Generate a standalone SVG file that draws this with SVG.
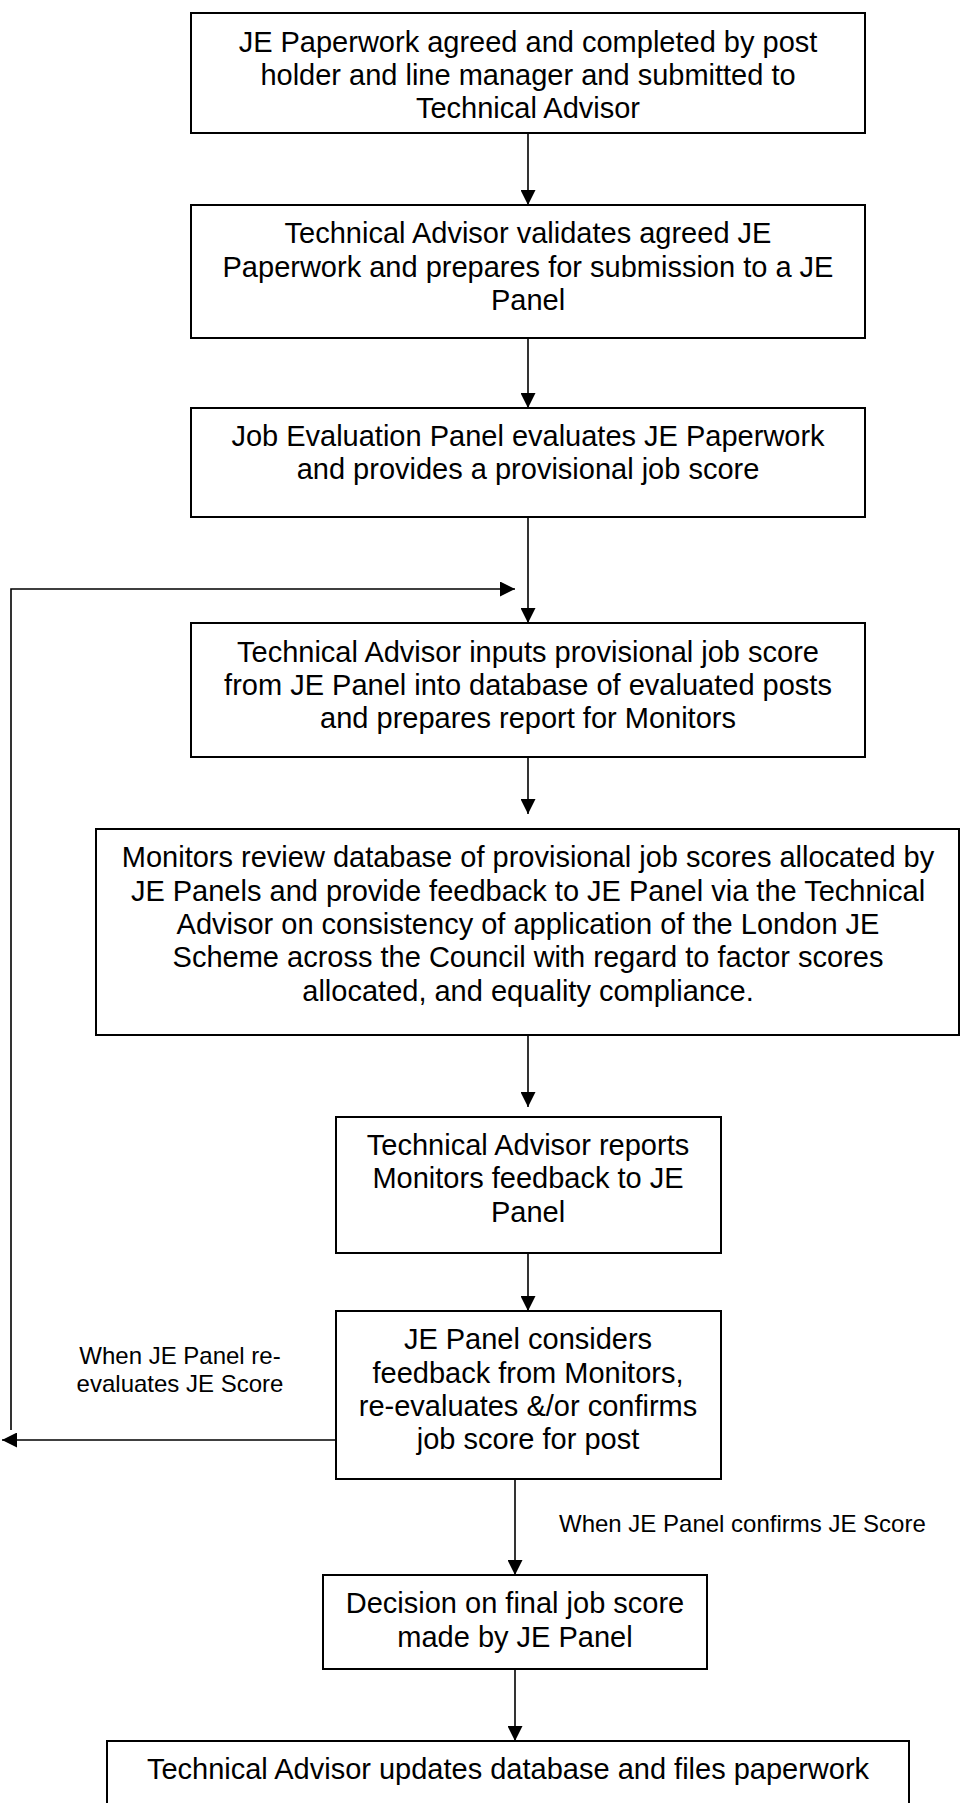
<svg xmlns="http://www.w3.org/2000/svg" width="961" height="1803" viewBox="0 0 961 1803">
  <style>
    .box { fill: #ffffff; stroke: #000000; stroke-width: 2; }
    .t { font-family: "Liberation Sans", Arial, Helvetica, sans-serif; font-size: 29px; fill: #000000; text-anchor: middle; }
    .lbl { font-family: "Liberation Sans", Arial, Helvetica, sans-serif; font-size: 24px; fill: #000000; }
    .conn { fill: none; stroke: #000000; stroke-width: 1.6; }
  </style>
  <defs>
    <marker id="arr" markerUnits="userSpaceOnUse" markerWidth="15" markerHeight="15" refX="15" refY="7.5" orient="auto">
      <path d="M0,0 L15,7.5 L0,15 z" fill="#000000"/>
    </marker>
  </defs>
  <rect width="961" height="1803" fill="#ffffff"/>

  <g id="connectors">
    <line class="conn" x1="528" y1="133" x2="528" y2="205" marker-end="url(#arr)"/>
    <line class="conn" x1="528" y1="338" x2="528" y2="408" marker-end="url(#arr)"/>
    <line class="conn" x1="528" y1="517" x2="528" y2="623" marker-end="url(#arr)"/>
    <line class="conn" x1="528" y1="757" x2="528" y2="814" marker-end="url(#arr)"/>
    <line class="conn" x1="528" y1="1035" x2="528" y2="1107" marker-end="url(#arr)"/>
    <line class="conn" x1="528" y1="1253" x2="528" y2="1311" marker-end="url(#arr)"/>
    <line class="conn" x1="515" y1="1479" x2="515" y2="1575" marker-end="url(#arr)"/>
    <line class="conn" x1="515" y1="1669" x2="515" y2="1741" marker-end="url(#arr)"/>
    <path class="conn" d="M11,1430 V589 H515" marker-end="url(#arr)"/>
    <line class="conn" x1="336" y1="1440" x2="2" y2="1440" stroke-width="2" marker-end="url(#arr)"/>
    <text class="lbl" text-anchor="middle" x="180" y="1364">When JE Panel re-</text>
    <text class="lbl" text-anchor="middle" x="180" y="1392">evaluates JE Score</text>
    <text class="lbl" x="559" y="1532">When JE Panel confirms JE Score</text>
  </g>

  <g id="node1">
    <rect class="box" x="191" y="13" width="674" height="120"/>
    <text class="t" x="528" y="51.5">JE Paperwork agreed and completed by post</text>
    <text class="t" x="528" y="84.8">holder and line manager and submitted to</text>
    <text class="t" x="528" y="118.1">Technical Advisor</text>
  </g>

  <g id="node2">
    <rect class="box" x="191" y="205" width="674" height="133"/>
    <text class="t" x="528" y="243.4">Technical Advisor validates agreed JE</text>
    <text class="t" x="528" y="276.7">Paperwork and prepares for submission to a JE</text>
    <text class="t" x="528" y="310">Panel</text>
  </g>

  <g id="node3">
    <rect class="box" x="191" y="408" width="674" height="109"/>
    <text class="t" x="528" y="446">Job Evaluation Panel evaluates JE Paperwork</text>
    <text class="t" x="528" y="479.3">and provides a provisional job score</text>
  </g>

  <g id="node4">
    <rect class="box" x="191" y="623" width="674" height="134"/>
    <text class="t" x="528" y="661.7">Technical Advisor inputs provisional job score</text>
    <text class="t" x="528" y="695">from JE Panel into database of evaluated posts</text>
    <text class="t" x="528" y="728.3">and prepares report for Monitors</text>
  </g>

  <g id="node5">
    <rect class="box" x="96" y="829" width="863" height="206"/>
    <text class="t" x="528" y="867.4">Monitors review database of provisional job scores allocated by</text>
    <text class="t" x="528" y="900.7">JE Panels and provide feedback to JE Panel via the Technical</text>
    <text class="t" x="528" y="934">Advisor on consistency of application of the London JE</text>
    <text class="t" x="528" y="967.3">Scheme across the Council with regard to factor scores</text>
    <text class="t" x="528" y="1000.6">allocated, and equality compliance.</text>
  </g>

  <g id="node6">
    <rect class="box" x="336" y="1117" width="385" height="136"/>
    <text class="t" x="528" y="1155">Technical Advisor reports</text>
    <text class="t" x="528" y="1188.3">Monitors feedback to JE</text>
    <text class="t" x="528" y="1221.6">Panel</text>
  </g>

  <g id="node7">
    <rect class="box" x="336" y="1311" width="385" height="168"/>
    <text class="t" x="528" y="1349.4">JE Panel considers</text>
    <text class="t" x="528" y="1382.7">feedback from Monitors,</text>
    <text class="t" x="528" y="1416">re-evaluates &amp;/or confirms</text>
    <text class="t" x="528" y="1449.3">job score for post</text>
  </g>

  <g id="node8">
    <rect class="box" x="323" y="1575" width="384" height="94"/>
    <text class="t" x="515" y="1613.4">Decision on final job score</text>
    <text class="t" x="515" y="1646.7">made by JE Panel</text>
  </g>

  <g id="node9">
    <rect class="box" x="107" y="1741" width="802" height="80"/>
    <text class="t" x="508" y="1779">Technical Advisor updates database and files paperwork</text>
  </g>
</svg>
